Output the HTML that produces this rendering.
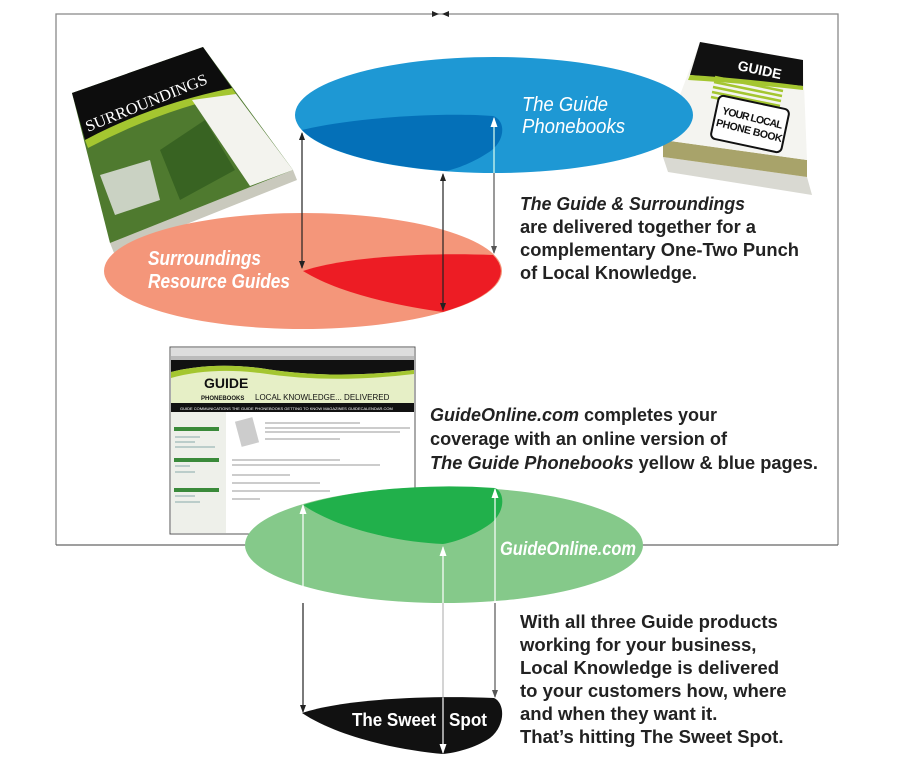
<!DOCTYPE html>
<html><head><meta charset="utf-8"><style>
html,body{margin:0;padding:0;background:#fff;}
svg{display:block;}
.t{font-family:"Liberation Sans",sans-serif;}
</style></head><body>
<svg width="900" height="777" viewBox="0 0 900 777" xmlns="http://www.w3.org/2000/svg">
<defs>
<marker id="ab" markerWidth="8" markerHeight="8" refX="7" refY="4" orient="auto-start-reverse" markerUnits="userSpaceOnUse"><path d="M0,1 L8,4 L0,7 Z" fill="#222"/></marker>
<marker id="aw" markerWidth="10" markerHeight="10" refX="9" refY="5" orient="auto-start-reverse" markerUnits="userSpaceOnUse"><path d="M0,1.5 L10,5 L0,8.5 Z" fill="#fff"/></marker>
<marker id="ag" markerWidth="8" markerHeight="8" refX="7" refY="4" orient="auto-start-reverse" markerUnits="userSpaceOnUse"><path d="M0,1 L8,4 L0,7 Z" fill="#555"/></marker>
</defs>
<!-- frame -->
<path d="M56,545 L56,14 L838,14 L838,545" fill="none" stroke="#888" stroke-width="1.3"/>
<line x1="56" y1="545" x2="245" y2="545" stroke="#666" stroke-width="1.3"/>
<line x1="642" y1="545" x2="838" y2="545" stroke="#666" stroke-width="1.3"/>
<path d="M432,11 L439,14 L432,17Z M449,11 L442,14 L449,17Z" fill="#222"/>

<!-- left book -->
<polygon points="110,243 293,170 297,180 114,253" fill="#c9c9bd"/>
<polygon points="72,93 203,47 293,170 110,243" fill="#4f7a2f"/>
<polygon points="72,93 203,47 232,88 85,140" fill="#0d0d0d"/>
<path d="M85,140 Q150,105 232,88 L236,94 Q160,110 88,148 Z" fill="#a4c630"/>
<polygon points="192,100 236,94 293,170 250,186" fill="#f3f3ee"/>
<polygon points="100,175 150,160 160,200 115,215" fill="#e8e8e8" opacity="0.8"/>
<polygon points="160,150 205,120 235,170 180,200" fill="#2f5a1c" opacity="0.7"/>
<text x="88" y="132" fill="#fff" font-family="Liberation Serif" font-size="16" textLength="130" lengthAdjust="spacingAndGlyphs" transform="rotate(-22 88 132)">SURROUNDINGS</text>

<!-- right book -->
<polygon points="663,157 807,177 812,195 668,172" fill="#d9d9d2"/>
<polygon points="663,140 807,160 807,177 663,157" fill="#a8a36a"/>
<polygon points="700,42 803,60 807,160 663,140" fill="#f4f4f0"/>
<polygon points="700,42 803,60 803,86 690,75" fill="#111"/>
<path d="M690,75 Q740,78 803,86 L803,90 Q740,83 688,80Z" fill="#a4c630"/>
<g stroke="#a4c630" stroke-width="2.5"><line x1="715" y1="77" x2="783" y2="91"/><line x1="714" y1="82" x2="782" y2="96"/><line x1="713" y1="87" x2="781" y2="101"/><line x1="712" y1="92" x2="780" y2="106"/><line x1="711" y1="97" x2="779" y2="111"/></g>
<text class="t" x="737" y="70" fill="#fff" font-size="14" font-weight="bold" transform="rotate(12 737 70)">GUIDE</text>
<rect x="714" y="102" width="72" height="44" rx="5" fill="#fff" stroke="#111" stroke-width="2" transform="rotate(12 750 124)"/>
<text class="t" fill="#111" font-size="10.5" font-weight="bold" transform="rotate(14 750 124)"><tspan x="720" y="121" textLength="62">YOUR LOCAL</tspan><tspan x="717" y="134" textLength="68">PHONE BOOK</tspan></text>

<!-- blue & salmon -->
<ellipse cx="494" cy="115" rx="199" ry="58" fill="#1e98d4"/>
<ellipse cx="303" cy="271" rx="199" ry="58" fill="#f4967a"/>
<path d="M302,130 C350,118 440,112 493,116 C505,120 506,138 492,150 C478,160 460,168 446,171 A199,58 0 0 1 302,130Z" fill="#0470b8"/>
<path d="M303,271 C340,258 420,252 493,255 A199,58 0 0 1 443,312 C400,306 340,294 303,271Z" fill="#ed1c24"/>
<line x1="302" y1="133" x2="302" y2="268" stroke="#222" stroke-width="1.2" marker-start="url(#ab)" marker-end="url(#ab)"/>
<line x1="443" y1="174" x2="443" y2="310" stroke="#222" stroke-width="1.2" marker-start="url(#ab)" marker-end="url(#ab)"/>
<line x1="494" y1="118" x2="494" y2="173" stroke="#dfe" stroke-width="1.2" marker-start="url(#aw)"/>
<line x1="494" y1="173" x2="494" y2="253" stroke="#555" stroke-width="1.2" marker-end="url(#ag)"/>

<g class="t" fill="#fff" font-style="italic" font-size="20">
<text x="522" y="111" textLength="86" lengthAdjust="spacingAndGlyphs">The Guide</text><text x="522" y="133" textLength="103" lengthAdjust="spacingAndGlyphs">Phonebooks</text>
<text x="148" y="265" font-weight="bold" textLength="113" lengthAdjust="spacingAndGlyphs">Surroundings</text><text x="148" y="288" font-weight="bold" textLength="142" lengthAdjust="spacingAndGlyphs">Resource Guides</text>
</g>
<g class="t" fill="#222" font-size="18.5" font-weight="bold">
<text x="520" y="210" font-style="italic" textLength="225" lengthAdjust="spacingAndGlyphs">The Guide &amp; Surroundings</text>
<text x="520" y="233" textLength="236" lengthAdjust="spacingAndGlyphs">are delivered together for a</text>
<text x="520" y="256" textLength="279" lengthAdjust="spacingAndGlyphs">complementary One-Two Punch</text>
<text x="520" y="279" textLength="177" lengthAdjust="spacingAndGlyphs">of Local Knowledge.</text>
<text x="430" y="421" textLength="287" lengthAdjust="spacingAndGlyphs"><tspan font-style="italic">GuideOnline.com</tspan> completes your</text>
<text x="430" y="445" textLength="297" lengthAdjust="spacingAndGlyphs">coverage with an online version of</text>
<text x="430" y="469" textLength="388" lengthAdjust="spacingAndGlyphs"><tspan font-style="italic">The Guide Phonebooks</tspan> yellow &amp; blue pages.</text>
<text x="520" y="628">With all three Guide products</text>
<text x="520" y="651">working for your business,</text>
<text x="520" y="674">Local Knowledge is delivered</text>
<text x="520" y="697">to your customers how, where</text>
<text x="520" y="720">and when they want it.</text>
<text x="520" y="743">That’s hitting The Sweet Spot.</text>
</g>

<!-- screenshot -->
<rect x="170" y="347" width="245" height="187" fill="#fff" stroke="#555" stroke-width="1"/>
<rect x="171" y="348" width="243" height="8" fill="#ddd"/>
<rect x="171" y="356" width="243" height="4" fill="#bbb"/>
<rect x="171" y="360" width="243" height="43" fill="#e6efc6"/>
<path d="M171,360 L414,360 L414,370 Q330,380 260,368 Q210,362 171,372Z" fill="#111"/>
<path d="M171,372 Q210,362 260,368 Q330,380 414,370 L414,374 Q330,384 260,373 Q210,367 171,378Z" fill="#a4c630"/>
<text class="t" x="204" y="388" font-size="14" font-weight="bold" fill="#111">GUIDE</text>
<text class="t" x="201" y="400" font-size="6" font-weight="bold" fill="#111">PHONEBOOKS</text>
<text class="t" x="255" y="400" font-size="8" fill="#111">LOCAL KNOWLEDGE... DELIVERED</text>
<rect x="171" y="403" width="243" height="9" fill="#111"/>
<text class="t" x="180" y="410" font-size="4" fill="#fff">GUIDE COMMUNICATIONS      THE GUIDE PHONEBOOKS      GETTING TO KNOW MAGAZINES      GUIDECALENDAR.COM</text>
<rect x="171" y="412" width="55" height="121" fill="#eef0ea"/>
<g fill="#3a8a3a"><rect x="174" y="427" width="45" height="4"/><rect x="174" y="458" width="45" height="4"/><rect x="174" y="488" width="45" height="4"/></g>
<g stroke="#8aa" stroke-width="1"><line x1="175" y1="437" x2="200" y2="437"/><line x1="175" y1="442" x2="195" y2="442"/><line x1="175" y1="447" x2="215" y2="447"/><line x1="175" y1="466" x2="190" y2="466"/><line x1="175" y1="472" x2="195" y2="472"/><line x1="175" y1="496" x2="195" y2="496"/><line x1="175" y1="502" x2="200" y2="502"/></g>
<g stroke="#999" stroke-width="1"><line x1="265" y1="423" x2="360" y2="423"/><line x1="265" y1="428" x2="410" y2="428"/><line x1="265" y1="432" x2="400" y2="432"/><line x1="265" y1="439" x2="340" y2="439"/><line x1="232" y1="460" x2="340" y2="460"/><line x1="232" y1="465" x2="380" y2="465"/><line x1="232" y1="475" x2="290" y2="475"/><line x1="232" y1="483" x2="320" y2="483"/><line x1="232" y1="491" x2="330" y2="491"/><line x1="232" y1="499" x2="260" y2="499"/></g>
<rect x="238" y="419" width="18" height="26" fill="#ccc" transform="rotate(-15 247 432)"/>

<!-- green -->
<ellipse cx="444" cy="545" rx="199" ry="58" fill="#85c98a"/>
<path d="M303,505 A199,58 0 0 1 495,488 C505,492 506,512 490,524 C475,535 455,542 443,544 C400,542 340,530 303,505Z" fill="#21b04b"/>
<text class="t" x="500" y="555" fill="#fff" font-style="italic" font-weight="bold" font-size="19" textLength="136" lengthAdjust="spacingAndGlyphs">GuideOnline.com</text>

<!-- sweet spot -->
<path d="M302,713 C340,700 420,695 494,698 C505,703 506,725 490,738 C475,748 455,753 443,754 C400,750 340,738 302,713Z" fill="#111"/>
<text class="t" x="352" y="726" fill="#fff" font-size="18" font-weight="bold" textLength="84" lengthAdjust="spacingAndGlyphs">The Sweet</text>
<text class="t" x="449" y="726" fill="#fff" font-size="18" font-weight="bold" textLength="38" lengthAdjust="spacingAndGlyphs">Spot</text>

<line x1="303" y1="505" x2="303" y2="603" stroke="#fff" stroke-width="1.2" marker-start="url(#aw)"/>
<line x1="303" y1="603" x2="303" y2="712" stroke="#222" stroke-width="1.2" marker-end="url(#ab)"/>
<line x1="443" y1="547" x2="443" y2="753" stroke="#fff" stroke-width="1.2" marker-start="url(#aw)" marker-end="url(#aw)"/>
<line x1="443" y1="603" x2="443" y2="698" stroke="#aaa" stroke-width="1"/>
<line x1="495" y1="489" x2="495" y2="603" stroke="#fff" stroke-width="1.2" marker-start="url(#aw)"/>
<line x1="495" y1="603" x2="495" y2="697" stroke="#555" stroke-width="1.2" marker-end="url(#ag)"/>
</svg>
</body></html>
